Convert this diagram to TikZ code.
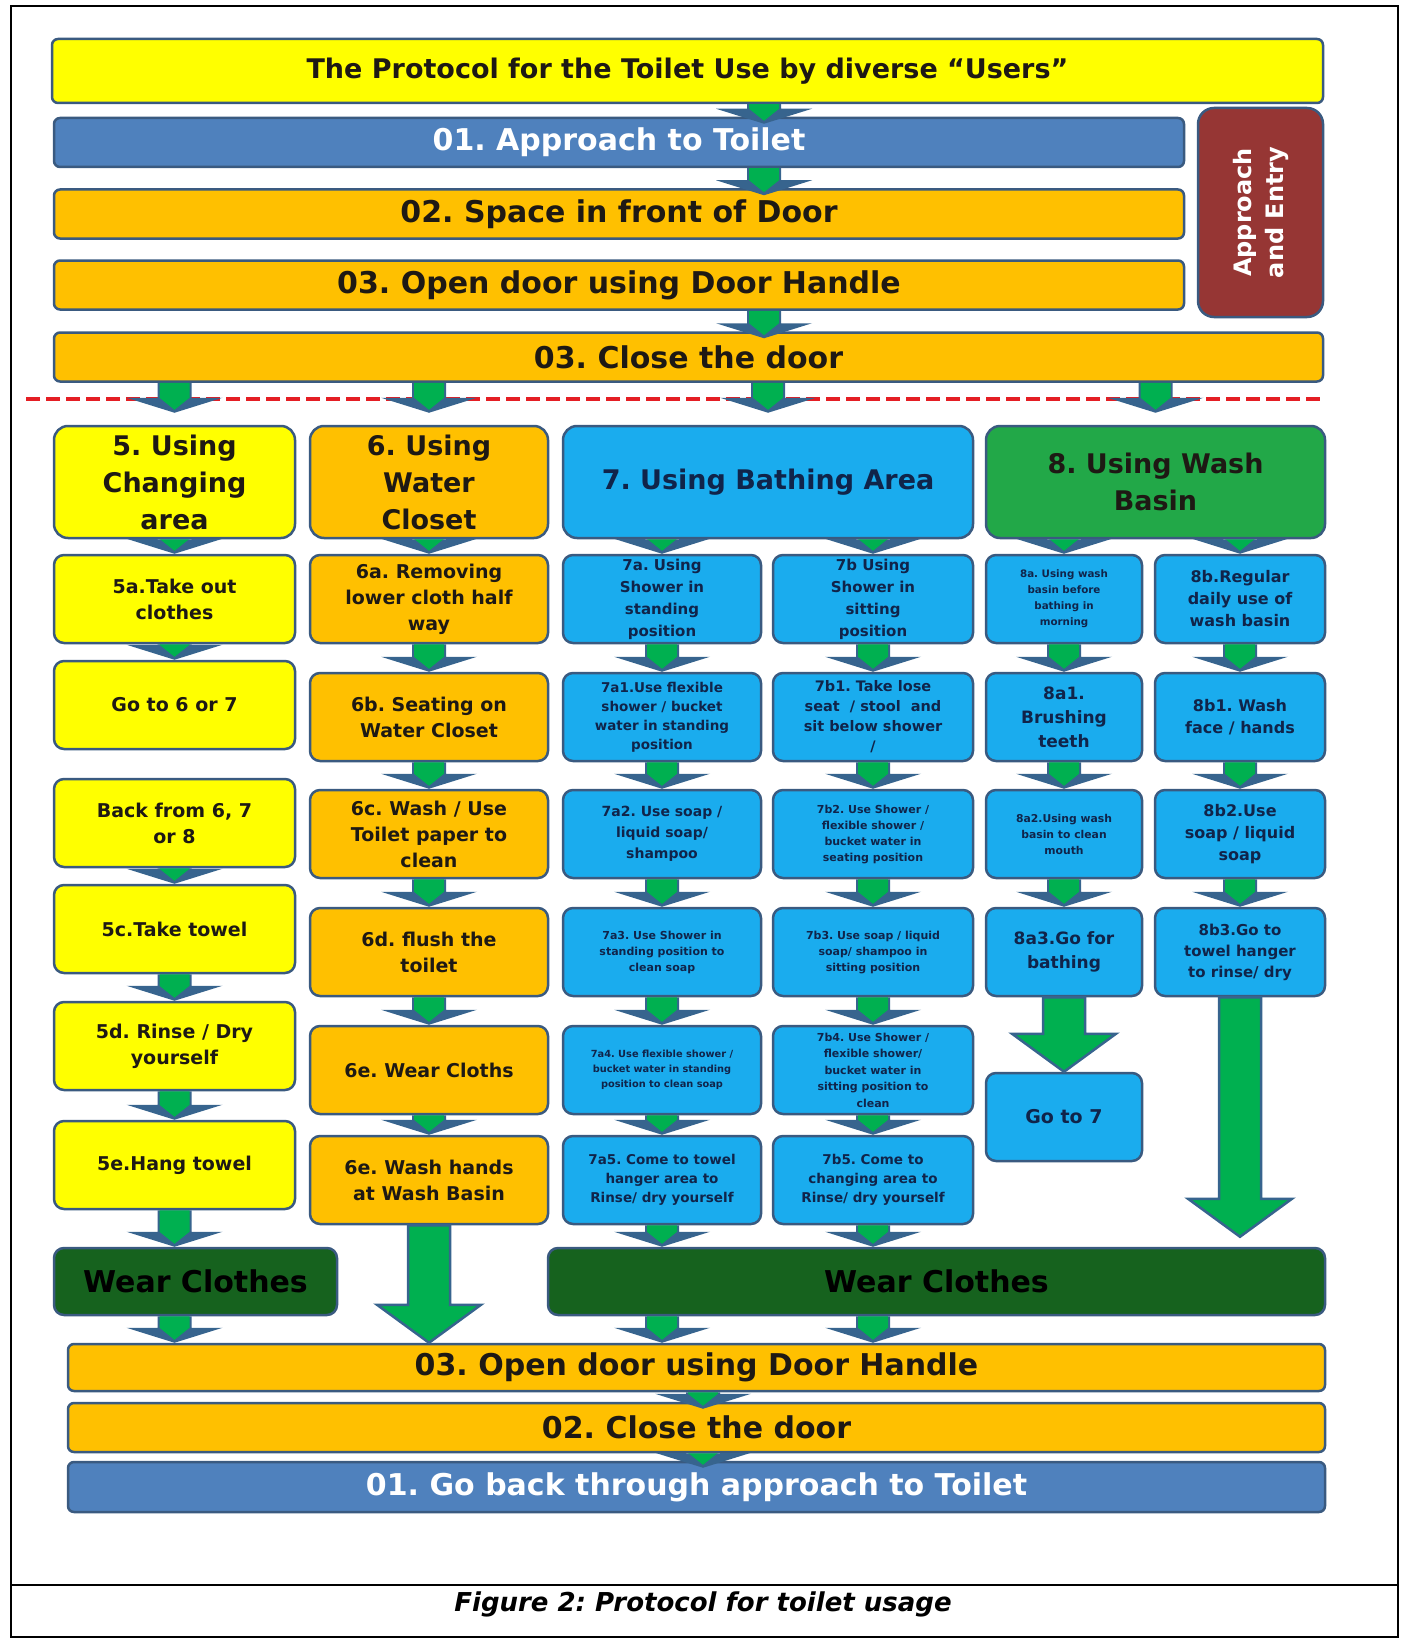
\documentclass[tikz,border=0pt]{standalone}
\usepackage{fontspec}
\setmainfont{DejaVu Sans}
\usetikzlibrary{calc}
\frenchspacing

\definecolor{lemon}{RGB}{255,255,0}
\definecolor{amber}{RGB}{255,192,0}
\definecolor{steel}{RGB}{79,129,189}
\definecolor{sky}{RGB}{26,172,238}
\definecolor{basin}{RGB}{34,168,72}
\definecolor{darkleaf}{RGB}{22,98,30}
\definecolor{maroon}{RGB}{150,54,52}
\definecolor{rim}{RGB}{58,90,128}
\definecolor{ink}{RGB}{30,25,20}
\definecolor{navy}{RGB}{16,36,74}
\definecolor{arrowgreen}{RGB}{0,176,80}
\definecolor{arrowrim}{RGB}{55,100,142}
\definecolor{dashred}{RGB}{228,30,36}

% block arrow straight down: shaft, head, head length, from, to
\newcommand{\blockarrow}[5]{%
  \filldraw[arrowbody] let \p1=#4, \p2=#5 in
    (\x1-#1,\y1) -- (\x1-#1,\y2+#3) -- (\x1-#2,\y2+#3) -- (\x1,\y2)
    -- (\x1+#2,\y2+#3) -- (\x1+#1,\y2+#3) -- (\x1+#1,\y1) -- cycle;}
% small arrow: dark wings, green shaft running into the tip
\newcommand{\flow}[2]{%
  \fill[arrowrim] let \p1=#1, \p2=#2 in
    (\x1-17pt,\y1) -- (\x1-17pt,\y2+15pt) -- (\x1-48pt,\y2+15pt) -- (\x1,\y2)
    -- (\x1+48pt,\y2+15pt) -- (\x1+17pt,\y2+15pt) -- (\x1+17pt,\y1) -- cycle;
  \fill[arrowgreen] let \p1=#1, \p2=#2 in
    (\x1-15pt,\y1) -- (\x1-15pt,\y2+15pt) -- (\x1,\y2+3pt)
    -- (\x1+15pt,\y2+15pt) -- (\x1+15pt,\y1) -- cycle;}
\newcommand{\bigflow}[2]{\blockarrow{21pt}{52pt}{38pt}{#1}{#2}}

\begin{document}
\begin{tikzpicture}[x=1pt,y=-1pt,
    box/.style={draw=rim,line width=2.5pt,rounded corners=10pt,
      align=center,inner sep=0pt,text=ink},
    sz/.style 2 args={font=\bfseries\fontsize{#1}{#2}\selectfont},
    strip/.style={box,rounded corners=6pt,minimum height=49pt,sz={30}{34}},
    head/.style={box,rounded corners=14pt,minimum height=112pt,sz={27}{37}},
    cell/.style={box,minimum height=88pt,sz={19}{26}},
    wet/.style={cell,fill=sky,text=navy},
    arrowbody/.style={fill=arrowgreen,draw=arrowrim,line width=2.5pt}]

  \useasboundingbox (0,0) rectangle (1403,1640);
  \draw[line width=1.5pt] (11,6) rectangle (1398,1637);
  \draw[line width=2pt] (11,1585) -- (1398,1585);

  % entry
  \node[strip,fill=lemon,minimum width=1271pt,minimum height=64pt,sz={27}{32}] (title)
    at (687.5,71) {The Protocol for the Toilet Use by diverse “Users”};
  \node[strip,fill=steel,text=white,minimum width=1130pt] (approach) at (619,142.5) {01. Approach to Toilet};
  \node[strip,fill=amber,minimum width=1130pt] (frontspace) at (619,214) {02. Space in front of Door};
  \node[strip,fill=amber,minimum width=1130pt] (opendoor) at (619,285) {03. Open door using Door Handle};
  \node[strip,fill=maroon,text=white,rotate=90,rounded corners=16pt,
    minimum width=209pt,minimum height=125pt,sz={24}{32}] (entry)
    at (1260.5,212.5) {Approach\\and Entry};
  \node[strip,fill=amber,minimum width=1269pt] (closedoor) at (688.5,357) {03. Close the door};

  \draw[dashred,line width=4pt,dash pattern=on 14pt off 6pt] (26,399) -- (1320,399);

  % areas
  \node[head,fill=lemon,minimum width=241pt] (h5) at (174.5,482) {5. Using\\Changing\\area};
  \node[head,fill=amber,minimum width=238pt] (h6) at (429,482) {6. Using\\Water\\Closet};
  \node[head,fill=sky,text=navy,minimum width=410pt] (h7) at (768,482) {7. Using Bathing Area};
  \node[head,fill=basin,minimum width=339pt] (h8) at (1155.5,482) {8. Using Wash\\Basin};

  % changing area
  \node[cell,fill=lemon,minimum width=241pt] (c5a) at (174.5,599) {5a.Take out\\clothes};
  \node[cell,fill=lemon,minimum width=241pt] (c5go) at (174.5,705) {Go to 6 or 7};
  \node[cell,fill=lemon,minimum width=241pt] (c5back) at (174.5,823) {Back from 6, 7\\or 8};
  \node[cell,fill=lemon,minimum width=241pt] (c5c) at (174.5,929) {5c.Take towel};
  \node[cell,fill=lemon,minimum width=241pt] (c5d) at (174.5,1046) {5d. Rinse / Dry\\yourself};
  \node[cell,fill=lemon,minimum width=241pt] (c5e) at (174.5,1165) {5e.Hang towel};

  % water closet
  \node[cell,fill=amber,minimum width=238pt] (c6a) at (429,599) {6a. Removing\\lower cloth half\\way};
  \node[cell,fill=amber,minimum width=238pt] (c6b) at (429,717) {6b. Seating on\\Water Closet};
  \node[cell,fill=amber,minimum width=238pt] (c6c) at (429,834) {6c. Wash / Use\\Toilet paper to\\clean};
  \node[cell,fill=amber,minimum width=238pt] (c6d) at (429,952) {6d. flush the\\toilet};
  \node[cell,fill=amber,minimum width=238pt] (c6e) at (429,1070) {6e. Wear Cloths};
  \node[cell,fill=amber,minimum width=238pt] (c6wash) at (429,1180) {6e. Wash hands\\at Wash Basin};

  % bathing, standing
  \node[wet,minimum width=198pt,sz={15}{22}] (c7a) at (662,599) {7a. Using\\Shower in\\standing\\position};
  \node[wet,minimum width=198pt,sz={13.5}{19}] (c7a1) at (662,717) {7a1.Use flexible\\shower / bucket\\water in standing\\position};
  \node[wet,minimum width=198pt,sz={14}{21}] (c7a2) at (662,834) {7a2. Use soap /\\liquid soap/\\shampoo};
  \node[wet,minimum width=198pt,sz={11}{16}] (c7a3) at (662,952) {7a3. Use Shower in\\standing position to\\clean soap};
  \node[wet,minimum width=198pt,sz={9.8}{15}] (c7a4) at (662,1070) {7a4. Use flexible shower /\\bucket water in standing\\position to clean soap};
  \node[wet,minimum width=198pt,sz={13.5}{19}] (c7a5) at (662,1180) {7a5. Come to towel\\hanger area to\\Rinse/ dry yourself};

  % bathing, sitting
  \node[wet,minimum width=200pt,sz={15}{22}] (c7b) at (873,599) {7b Using\\Shower in\\sitting\\position};
  \node[wet,minimum width=200pt,sz={14.5}{20}] (c7b1) at (873,717) {7b1. Take lose\\seat~ / stool~ and\\sit below shower\\/};
  \node[wet,minimum width=200pt,sz={11}{16}] (c7b2) at (873,834) {7b2. Use Shower /\\flexible shower /\\bucket water in\\seating position};
  \node[wet,minimum width=200pt,sz={11}{16}] (c7b3) at (873,952) {7b3. Use soap / liquid\\soap/ shampoo in\\sitting position};
  \node[wet,minimum width=200pt,sz={11}{16.5}] (c7b4) at (873,1070) {7b4. Use Shower /\\flexible shower/\\bucket water in\\sitting position to\\clean};
  \node[wet,minimum width=200pt,sz={13.5}{19}] (c7b5) at (873,1180) {7b5. Come to\\changing area to\\Rinse/ dry yourself};

  % wash basin
  \node[wet,minimum width=156pt,sz={10.3}{16}] (c8a) at (1064,599) {8a. Using wash\\basin before\\bathing in\\morning};
  \node[wet,minimum width=156pt,sz={17}{24}] (c8a1) at (1064,717) {8a1.\\Brushing\\teeth};
  \node[wet,minimum width=156pt,sz={10.8}{16}] (c8a2) at (1064,834) {8a2.Using wash\\basin to clean\\mouth};
  \node[wet,minimum width=156pt,sz={17}{24}] (c8a3) at (1064,952) {8a3.Go for\\bathing};
  \node[wet,minimum width=156pt] (c8go) at (1064,1117) {Go to 7};
  \node[wet,minimum width=170pt,sz={16}{22}] (c8b) at (1240,599) {8b.Regular\\daily use of\\wash basin};
  \node[wet,minimum width=170pt,sz={16}{22}] (c8b1) at (1240,717) {8b1. Wash\\face / hands};
  \node[wet,minimum width=170pt,sz={16}{22}] (c8b2) at (1240,834) {8b2.Use\\soap / liquid\\soap};
  \node[wet,minimum width=170pt,sz={15}{21}] (c8b3) at (1240,952) {8b3.Go to\\towel hanger\\to rinse/ dry};

  % leaving
  \node[box,fill=darkleaf,text=black,minimum width=283pt,minimum height=67pt,sz={30}{34}] (wearL) at (195.5,1281.5) {Wear Clothes};
  \node[box,fill=darkleaf,text=black,minimum width=777pt,minimum height=67pt,sz={30}{34}] (wearR) at (936.5,1281.5) {Wear Clothes};
  \node[strip,fill=amber,minimum width=1257pt,minimum height=47pt] (openout) at (696.5,1367.5) {03. Open door using Door Handle};
  \node[strip,fill=amber,minimum width=1257pt] (closeout) at (696.5,1427.5) {02. Close the door};
  \node[strip,fill=steel,text=white,minimum width=1257pt,minimum height=50pt] (backout) at (696.5,1487) {01. Go back through approach to Toilet};

  \node[font=\bfseries\itshape\fontsize{26}{30}\selectfont] (caption) at (703,1604) {Figure 2: Protocol for toilet usage};

  % arrows
  \coordinate (inaxis) at (764,0);
  \coordinate (outaxis) at (703,0);
  \flow{(title.south -| inaxis)}{($(approach.north -| inaxis)+(0,7)$)}
  \flow{(approach.south -| inaxis)}{($(frontspace.north -| inaxis)+(0,7)$)}
  \flow{(opendoor.south -| inaxis)}{($(closedoor.north -| inaxis)+(0,7)$)}
  \foreach \h in {h5,h6,h7,h8}
    \flow{(closedoor.south -| \h.north)}{($(\h.north)+(0,-12)$)};
  \foreach \u/\v in {h5/c5a,c5a/c5go,c5back/c5c,c5c/c5d,c5d/c5e,c5e/wearL,
      h6/c6a,c6a/c6b,c6b/c6c,c6c/c6d,c6d/c6e,c6e/c6wash,
      c7a/c7a1,c7a1/c7a2,c7a2/c7a3,c7a3/c7a4,c7a4/c7a5,c7a5/wearR,
      c7b/c7b1,c7b1/c7b2,c7b2/c7b3,c7b3/c7b4,c7b4/c7b5,c7b5/wearR,
      c8a/c8a1,c8a1/c8a2,c8a2/c8a3,c8b/c8b1,c8b1/c8b2,c8b2/c8b3}
    \flow{(\u.south)}{(\u.south |- \v.north)};
  \foreach \v in {c7a,c7b}
    \flow{(h7.south -| \v.north)}{(\v.north)};
  \foreach \v in {c8a,c8b}
    \flow{(h8.south -| \v.north)}{(\v.north)};
  \flow{(wearL.south -| c5e.south)}{(openout.north)}
  \foreach \v in {c7a5,c7b5}
    \flow{(wearR.south -| \v.south)}{(openout.north)};
  \bigflow{(c6wash.south)}{(openout.north)}
  \bigflow{(c8a3.south)}{(c8go.north)}
  \bigflow{(c8b3.south)}{($(wearR.north)+(0,-10)$)}
  \flow{(openout.south -| outaxis)}{($(closeout.north)+(0,7)$)}
  \flow{(closeout.south -| outaxis)}{($(backout.north)+(0,7)$)}
\end{tikzpicture}
\end{document}
